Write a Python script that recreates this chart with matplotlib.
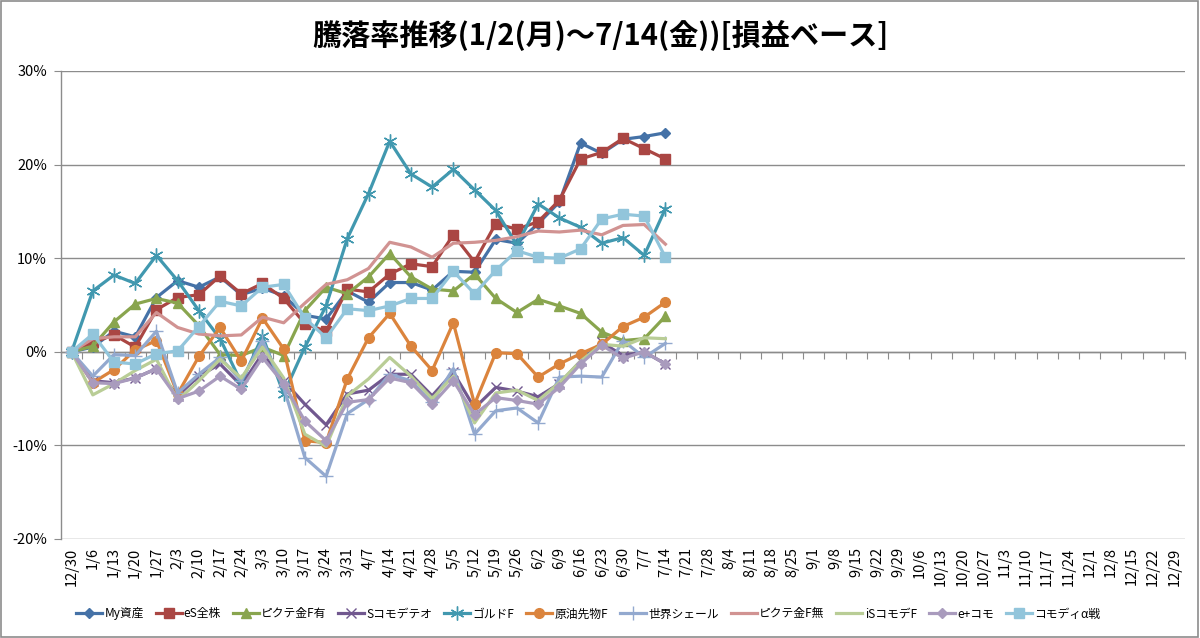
import matplotlib
matplotlib.use("Agg")
import matplotlib.pyplot as plt
from matplotlib.patches import Rectangle
from matplotlib.ticker import FuncFormatter, FixedLocator

plt.rcParams['font.family'] = ['Noto Sans CJK JP', 'DejaVu Sans']

categories = ["12/30", "1/6", "1/13", "1/20", "1/27", "2/3", "2/10", "2/17", "2/24", "3/3",
              "3/10", "3/17", "3/24", "3/31", "4/7", "4/14", "4/21", "4/28", "5/5", "5/12",
              "5/19", "5/26", "6/2", "6/9", "6/16", "6/23", "6/30", "7/7", "7/14", "7/21",
              "7/28", "8/4", "8/11", "8/18", "8/25", "9/1", "9/8", "9/15", "9/22", "9/29",
              "10/6", "10/13", "10/20", "10/27", "11/3", "11/10", "11/17", "11/24", "12/1",
              "12/8", "12/15", "12/22", "12/29"]

my_shisan = [0, 0.5, 2.2, 1.6, 5.8, 7.6, 6.9, 8.0, 6.1, 6.8, 6.0, 3.9, 3.5, 6.5, 5.3, 7.4,
             7.4, 6.6, 8.6, 8.5, 12.0, 11.6, 13.7, 16.0, 22.3, 21.2, 22.7, 23.0, 23.4]
es_zenkabu = [0, 1.0, 1.8, 0.5, 4.5, 5.8, 6.1, 8.1, 6.2, 7.3, 5.7, 3.0, 2.2, 6.7, 6.4, 8.3,
              9.4, 9.1, 12.5, 9.6, 13.7, 13.1, 13.9, 16.2, 20.6, 21.3, 22.8, 21.7, 20.6]
pictet_ari = [0, 0.6, 3.2, 5.1, 5.7, 5.2, 2.8, -0.3, -0.4, 0.5, -0.4, 4.4, 6.9, 6.2, 8.0, 10.5,
              8.0, 6.7, 6.5, 8.3, 5.7, 4.2, 5.6, 4.9, 4.1, 2.1, 1.2, 1.4, 3.8]
s_komode = [0, -3.1, -3.3, -2.8, -1.8, -4.7, -2.6, -1.3, -3.6, -0.2, -3.1, -5.6, -7.8, -4.5,
            -4.1, -2.4, -2.4, -4.7, -2.2, -6.0, -3.8, -4.2, -4.8, -3.4, -1.0, 1.0, -0.4, 0.0, -1.3]
gold_f = [0, 6.5, 8.2, 7.3, 10.3, 7.6, 4.4, 1.4, -3.3, 1.7, -4.5, 0.5, 4.9, 12.1, 16.9, 22.5,
          19.0, 17.6, 19.5, 17.3, 15.1, 11.4, 15.8, 14.3, 13.3, 11.6, 12.2, 10.3, 15.3]
genyu = [0, -3.3, -1.9, 0.2, 1.2, -4.5, -0.5, 2.6, -1.0, 3.6, 0.3, -9.5, -9.7, -2.9, 1.5, 4.1,
         0.6, -2.0, 3.1, -5.6, -0.1, -0.2, -2.7, -1.3, -0.2, 0.8, 2.7, 3.7, 5.3]
sekai_shale = [0, -2.6, -0.3, -0.4, 2.2, -4.4, -2.4, -0.6, -3.1, 1.2, -3.8, -11.3, -13.3, -6.6,
               -5.1, -2.4, -3.1, -5.4, -1.8, -8.8, -6.3, -6.0, -7.6, -2.7, -2.6, -2.7, 1.2, -0.6, 0.9]
pictet_nashi = [0, 1.4, 1.6, 1.6, 4.2, 2.6, 1.9, 1.7, 1.8, 3.7, 3.1, 5.2, 7.2, 7.7, 8.9, 11.7,
                11.2, 10.1, 11.6, 11.7, 11.9, 12.3, 12.9, 12.8, 13.0, 12.5, 13.5, 13.6, 11.5]
is_komode = [0, -4.6, -3.4, -2.0, -0.8, -5.2, -3.1, -0.8, -2.8, 0.5, -2.8, -8.8, -10.1, -4.7,
             -2.9, -0.6, -2.6, -5.0, -2.6, -7.6, -4.4, -4.1, -5.2, -3.3, -1.0, 0.8, 0.6, 1.5, 1.4]
eplus_komo = [0, -3.3, -3.4, -2.8, -1.8, -5.0, -4.2, -2.6, -4.0, -0.6, -3.4, -7.4, -9.5, -5.4,
              -5.1, -2.8, -3.3, -5.6, -3.1, -6.7, -4.9, -5.2, -5.6, -3.8, -1.3, 0.7, -0.7, 0.0, -1.3]
komodi_alpha = [0, 1.9, -1.1, -1.3, -0.2, 0.1, 2.7, 5.4, 4.9, 6.9, 7.2, 3.6, 1.5, 4.6, 4.4, 4.9,
                5.7, 5.7, 8.6, 6.2, 8.7, 10.8, 10.1, 10.0, 11.0, 14.2, 14.7, 14.5, 10.1]

series_names = ["My資産", "eS全株", "ピクテ金F有", "Sコモデテオ", "ゴルドF", "原油先物F",
                "世界シェール", "ピクテ金F無", "iSコモデF", "e+コモ", "コモディα戦"]
series_values = [my_shisan, es_zenkabu, pictet_ari, s_komode, gold_f, genyu,
                 sekai_shale, pictet_nashi, is_komode, eplus_komo, komodi_alpha]
colors = ["#4572A7", "#AA4643", "#89A54E", "#71588F", "#4198AF", "#DB843D",
          "#93A9CF", "#D19392", "#B9CD96", "#A99BBD", "#92C5DB"]
markers = ["D", "s", "^", "x", (6, 2, 0), "o", "+", "", "", "D", "s"]
msizes = [5.5, 7, 7, 7, 10, 7, 10, 0, 0, 5.5, 7]

fig = plt.figure(figsize=(12, 6.38), dpi=100)
ax = fig.add_axes([61 / 1200, 1 - 539 / 638, (1185 - 61) / 1200, (539 - 71) / 638])

x_idx = list(range(len(categories)))
for name, vals, c, m, ms in zip(series_names, series_values, colors, markers, msizes):
    kw = dict(color=c, linewidth=2.3, label=name, solid_joinstyle='round')
    if m != "":
        mew = 1.0 if m in ("x", "+") or isinstance(m, tuple) else 1.0
        kw.update(marker=m, markersize=ms, markeredgewidth=mew,
                  markerfacecolor=c, markeredgecolor=c)
    ax.plot(x_idx[:len(vals)], vals, **kw)

ax.set_xlim(-0.5, len(categories) - 0.5)
ax.set_ylim(-20, 30)
ax.set_yticks([-20, -10, 0, 10, 20, 30])
ax.yaxis.set_major_formatter(FuncFormatter(lambda v, p: f"{int(round(v))}%"))
ax.grid(axis='y', color='#8C8C8C', linewidth=1.0)
ax.set_axisbelow(True)
for s in ("top", "right", "bottom"):
    ax.spines[s].set_visible(False)
ax.spines['left'].set_color('#8C8C8C')
ax.spines['left'].set_linewidth(1.0)
ax.tick_params(axis='y', length=5, color='#8C8C8C', labelsize=10.5, pad=5)

ax.set_xticks(x_idx)
ax.set_xticklabels(categories, rotation=90, fontsize=10.5)
ax.tick_params(axis='x', length=0, pad=6)

# category axis crossing at 0% with tick marks between categories
sec = ax.secondary_xaxis(0.4)
sec.xaxis.set_major_locator(FixedLocator([i - 0.5 for i in range(len(categories) + 1)]))
sec.set_xticklabels([])
sec.spines['bottom'].set_color('#8C8C8C')
sec.spines['bottom'].set_linewidth(1.0)
sec.tick_params(axis='x', length=5, color='#8C8C8C', direction='out')

fig.suptitle("騰落率推移(1/2(月)～7/14(金))[損益ベース]", x=0.5, y=0.968,
             fontsize=21, fontweight='bold', va='top')

leg = fig.legend(loc='center', bbox_to_anchor=(0.49, 1 - 614 / 638), ncol=11,
                 frameon=False, fontsize=8.5, handlelength=2.2, handletextpad=0.2,
                 columnspacing=1.0)

fig.patches.append(Rectangle((0.001, 0.002), 0.997, 0.996, transform=fig.transFigure,
                             fill=False, edgecolor='#8C8C8C', linewidth=1.2))

fig.savefig("out.png", dpi=100)
